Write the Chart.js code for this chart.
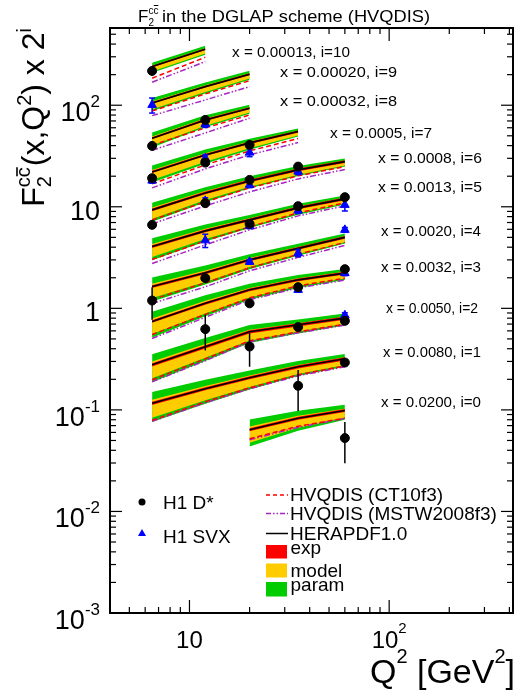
<!DOCTYPE html>
<html><head><meta charset="utf-8">
<script src="https://cdn.jsdelivr.net/npm/chart.js@4.4.0/dist/chart.umd.min.js"></script>
<style>html,body{margin:0;padding:0;background:#fff;}#wrap{width:521px;height:700px;}</style>
</head><body><div id="wrap"><canvas id="c" width="521" height="700"></canvas></div>
<script>
// ---------------- DATA ----------------
const BIN_I = [10, 9, 8, 7, 6, 5, 4, 3, 2, 1, 0];
const BIN_X = ['0.00013','0.00020','0.00032','0.0005','0.0008','0.0013','0.0020','0.0032','0.0050','0.0080','0.0200'];
const Q2_NODES = [
  [6.5, 12], [6.5, 12, 20], [6.5, 12, 20], [6.5, 12, 20, 35],
  [6.5, 12, 20, 35, 60], [6.5, 12, 20, 35, 60], [6.5, 12, 20, 35, 60],
  [6.5, 12, 20, 35, 60], [6.5, 12, 20, 35, 60], [6.5, 12, 20, 35, 60],
  [20, 35, 60]
];
// F2cc x 2^i, HERAPDF1.0 central
const HERAPDF = [
  [240, 356], [105.3, 152.4, 201.9], [47.3, 71.7, 93.4], [22.05, 32.4, 42.6, 55.0],
  [9.32, 13.70, 17.98, 23.08, 27.86], [4.058, 5.791, 7.43, 9.754, 11.96],
  [1.639, 2.236, 3.002, 3.895, 4.998], [0.7415, 1.120, 1.521, 1.908, 2.221],
  [0.2779, 0.4180, 0.5871, 0.6881, 0.8009], [0.1161, 0.1613, 0.2070, 0.2656, 0.3184],
  [0.0637, 0.0827, 0.0987]
];
const CT10 = [
  [184.5, 297.0], [87.8, 129.2, 174.6], [40.4, 59.8, 80.2], [16.80, 25.83, 35.54, 46.94],
  [7.43, 11.17, 15.34, 20.15, 24.88], [3.023, 4.617, 6.341, 8.709, 10.92],
  [1.221, 1.783, 2.504, 3.400, 4.463], [0.5523, 0.8729, 1.269, 1.665, 1.983],
  [0.1979, 0.3185, 0.4788, 0.5872, 0.6991], [0.0790, 0.1202, 0.1650, 0.2216, 0.2717],
  [0.0520, 0.0690, 0.0830]
];
const MSTW = [
  [168.6, 268.8], [79.0, 112.8, 152.4], [36.0, 53.4, 74.5], [15.35, 23.60, 32.46, 42.87],
  [6.79, 10.21, 14.01, 18.82, 23.24], [2.761, 4.218, 5.924, 8.137, 10.21],
  [1.115, 1.628, 2.340, 3.176, 4.169], [0.5046, 0.8157, 1.213, 1.592, 1.895],
  [0.1891, 0.3044, 0.4681, 0.5740, 0.6835], [0.0772, 0.1175, 0.1613, 0.2166, 0.2656],
  [0.0508, 0.0674, 0.0823]
];
// uncertainties in percent of central value
const EXP_PCT = [2, 2, 2.5, 2.5, 3, 3, 3, 3, 3.5, 3.5, 3.5];
const MODEL_UP_PCT = [
  [2.8, 2.5], [3.6, 3.0, 2.5], [4.2, 3.3, 2.5], [4.7, 3.9, 3.0, 2.2],
  [5.3, 4.2, 3.3, 2.8, 2.2], [6.2, 4.7, 3.6, 3.0, 2.5], [6.7, 5.3, 4.2, 3.3, 2.8],
  [7.3, 5.9, 4.4, 3.6, 3.0], [7.9, 6.5, 5.0, 3.9, 3.3], [8.5, 6.7, 5.3, 4.2, 3.6],
  [7.6, 5.6, 4.2]
];
const MODEL_DN_PCT = [
  [10.3, 9.3], [13.2, 11.3, 9.3], [15.0, 12.2, 9.3], [16.9, 14.1, 11.3, 8.3],
  [18.7, 15.0, 12.2, 10.3, 8.3], [21.3, 16.9, 13.2, 11.3, 9.3], [23.0, 18.7, 15.0, 12.2, 10.3],
  [24.7, 20.4, 16.0, 13.2, 11.3], [26.2, 22.1, 17.8, 14.1, 12.2], [27.8, 23.0, 18.7, 15.0, 13.2],
  [25.4, 19.5, 15.0]
];
const PARAM_UP_PCT = [
  [9.0, 8.1], [11.8, 9.9, 8.1], [13.8, 10.9, 8.1], [15.8, 12.8, 9.9, 7.1],
  [17.8, 13.8, 10.9, 9.0, 7.1], [20.9, 15.8, 11.8, 9.9, 8.1], [22.9, 17.8, 13.8, 10.9, 9.0],
  [25.1, 19.8, 14.8, 11.8, 9.9], [27.3, 21.9, 16.8, 12.8, 10.9], [29.5, 22.9, 17.8, 13.8, 11.8],
  [26.2, 18.8, 13.8]
];
const PARAM_DN_PCT = [
  [13.1, 11.9], [16.7, 14.3, 11.9], [19.0, 15.5, 11.9], [21.3, 17.9, 14.3, 10.6],
  [23.4, 19.0, 15.5, 13.1, 10.6], [26.6, 21.3, 16.7, 14.3, 11.9], [28.6, 23.4, 19.0, 15.5, 13.1],
  [30.6, 25.5, 20.1, 16.7, 14.3], [32.5, 27.6, 22.4, 17.9, 15.5], [34.4, 28.6, 23.4, 19.0, 16.7],
  [31.6, 24.5, 19.0]
];
// H1 D* measurements
const DSTAR_Q2  = [6.5, 6.5, 6.5, 6.5, 6.5, 12, 12, 12, 12, 12, 20, 20, 20, 20, 20, 35, 35, 35, 35, 35, 60, 60, 60, 60, 60];
const DSTAR_F2  = [217.6, 39.76, 19.12, 6.636, 1.193, 71.67, 27.23, 10.85, 1.983, 0.6241, 40.67, 18.40, 6.787, 1.120, 0.4207, 24.87, 10.14, 1.617, 0.6531, 0.1727, 12.43, 2.431, 0.7534, 0.2927, 0.0528];
const DSTAR_ERR = [20, 3, 1.5, 0.6, 0.42, 7, 2, 0.9, 0.15, 0.24, 3, 1.2, 0.4, 0.08, 0.155, 2, 0.7, 0.1, 0.04, 0.075, 0.7, 0.15, 0.05, 0.02, 0.023];
// H1 SVX measurements
const SVX_Q2  = [6.5, 6.5, 12, 12, 12, 12, 20, 20, 20, 20, 35, 35, 35, 35, 60, 60, 60, 60];
const SVX_F2  = [100.7, 18.11, 65.44, 30.08, 11.43, 4.669, 34.16, 16.43, 6.486, 2.869, 22.21, 9.176, 3.494, 1.521, 10.44, 5.925, 2.221, 0.8534];
const SVX_ERR = [17, 1, 5, 2.3, 0.8, 0.7, 3, 1, 0.4, 0.15, 1.5, 0.6, 0.27, 0.08, 1.35, 0.32, 0.12, 0.05];
// axis ticks
const Y_TICKS = [[1e-3,'10','-3'],[1e-2,'10','-2'],[1e-1,'10','-1'],[1,'1',''],[10,'10',''],[100,'10','2']];
const X_TICKS = [[10,'10',''],[100,'10','2']];

// ---------------- layout / style ----------------
const ANNOT_POS = [[232,350,57],[280,397,77],[280,397,106],[330,432,138],[378,482,163],[378,482,192],[381,481,235.5],[381,481,272],[386,478,313],[383,481,357],[381,481,407]];
const GREEN = '#00cc00', YELLOW = '#ffcc00', RED = '#ff0000', PURPLE = '#a724c4', BLUE = '#0000ff';
const NONE = 'rgba(0,0,0,0)';
const FONT = '"Liberation Sans", Arial, Helvetica, sans-serif';

const datasets = [];
function band(q, lo, hi, color, order) {
  const idx = datasets.length;
  datasets.push({data: q.map((x,k)=>({x, y: hi[k]})), borderColor: NONE, borderWidth: 0, pointRadius: 0, fill: idx + 1, backgroundColor: color, order});
  datasets.push({data: q.map((x,k)=>({x, y: lo[k]})), borderColor: NONE, borderWidth: 0, pointRadius: 0, fill: false, order});
}
HERAPDF.forEach((cen, b) => {
  const q = Q2_NODES[b];
  band(q, cen.map((c,k)=>c*(1-PARAM_DN_PCT[b][k]/100)), cen.map((c,k)=>c*(1+PARAM_UP_PCT[b][k]/100)), GREEN, 50);
  band(q, cen.map((c,k)=>c*(1-MODEL_DN_PCT[b][k]/100)), cen.map((c,k)=>c*(1+MODEL_UP_PCT[b][k]/100)), YELLOW, 40);
  band(q, cen.map(c=>c*(1-EXP_PCT[b]/100)), cen.map(c=>c*(1+EXP_PCT[b]/100)), RED, 30);
  datasets.push({data: q.map((x,k)=>({x, y: CT10[b][k]})), borderColor: RED, borderWidth: 1.5, borderDash: [5,3], pointRadius: 0, fill: false, order: 20});
  datasets.push({data: q.map((x,k)=>({x, y: MSTW[b][k]})), borderColor: PURPLE, borderWidth: 1.5, borderDash: [6,2,1.5,2,1.5,2], pointRadius: 0, fill: false, order: 20});
  datasets.push({data: q.map((x,k)=>({x, y: cen[k]})), borderColor: '#000', borderWidth: 1.6, pointRadius: 0, fill: false, order: 15});
});
function errData(q, v, e) {
  const out = [];
  q.forEach((x,k)=>{ out.push({x, y: v[k]-e[k]}, {x, y: v[k]+e[k]}, {x, y: null}); });
  return out;
}
datasets.push({data: errData(SVX_Q2, SVX_F2, SVX_ERR), borderColor: BLUE, borderWidth: 1.5, spanGaps: false, fill: false,
  pointStyle: 'line', pointRadius: 3, pointBorderColor: BLUE, pointBorderWidth: 1.5, order: 9});
datasets.push({data: errData(DSTAR_Q2, DSTAR_F2, DSTAR_ERR), borderColor: '#000', borderWidth: 1.5, spanGaps: false, fill: false,
  pointRadius: 0, order: 8});
datasets.push({data: SVX_Q2.map((x,k)=>({x, y: SVX_F2[k]})), showLine: false, pointStyle: 'triangle', pointRadius: 5,
  backgroundColor: BLUE, borderColor: BLUE, pointBorderWidth: 1, order: 6});
datasets.push({data: DSTAR_Q2.map((x,k)=>({x, y: DSTAR_F2[k]})), showLine: false, pointStyle: 'circle', pointRadius: 4.5,
  backgroundColor: '#000', borderColor: '#000', pointBorderWidth: 1, order: 5});

function setFont(ctx, px) { ctx.font = px + 'px ' + FONT; }
function tw(ctx, s, px) { setFont(ctx, px); return ctx.measureText(s).width; }
function put(ctx, s, x, y, px) { setFont(ctx, px); ctx.textAlign = 'left'; ctx.textBaseline = 'alphabetic'; ctx.fillText(s, x, y); }
function fitText(ctx, s, x0, x1, base, px) {
  const w = tw(ctx, s, px); let sx = (x1 - x0) / w; sx = Math.max(0.8, Math.min(1.25, sx));
  ctx.save(); ctx.translate(x0, base); ctx.scale(sx, 1); put(ctx, s, 0, 0, px); ctx.restore();
}
function line(ctx, x0, y0, x1, y1) { ctx.beginPath(); ctx.moveTo(x0, y0); ctx.lineTo(x1, y1); ctx.stroke(); }

const decor = {
  id: 'decor',
  afterDraw(chart) {
    const ctx = chart.ctx, xa = chart.scales.x, ya = chart.scales.y;
    const {left: L, right: R, top: T, bottom: B} = chart.chartArea;
    ctx.save();
    ctx.fillStyle = '#000'; ctx.strokeStyle = '#000';
    // ticks
    ctx.lineWidth = 1.2;
    for (let e = -3; e <= 2; e++) for (let k = 1; k <= 9; k++) {
      const v = k * Math.pow(10, e); if (v > ya.max) continue;
      const py = ya.getPixelForValue(v), len = k === 1 ? 12 : 6;
      line(ctx, L, py, L + len, py); line(ctx, R, py, R - len, py);
    }
    for (let e = 0; e <= 2; e++) for (let k = 1; k <= 9; k++) {
      const v = k * Math.pow(10, e); if (v < xa.min || v > xa.max) continue;
      const px = xa.getPixelForValue(v), len = k === 1 ? 13 : 6;
      line(ctx, px, B, px, B - len); line(ctx, px, T, px, T + len);
    }
    // frame
    ctx.lineWidth = 2; ctx.strokeRect(L, T, R - L, B - T);
    // y tick labels
    Y_TICKS.forEach(([v, m, s]) => {
      const py = ya.getPixelForValue(v);
      const ws = s ? tw(ctx, s, 17) : 0, wm = tw(ctx, m, 27);
      const xr = 100;
      if (s) { put(ctx, m, xr - ws - wm, py + 16, 27); put(ctx, s, xr - ws, py + 2, 17); }
      else put(ctx, m, xr - wm, py + 13, 27);
    });
    // x tick labels
    X_TICKS.forEach(([v, m, s]) => {
      const px = xa.getPixelForValue(v);
      const ws = s ? tw(ctx, s, 15) : 0, wm = tw(ctx, m, 24);
      const x0 = px - (wm + ws) / 2;
      put(ctx, m, x0, 648, 24); if (s) put(ctx, s, x0 + wm, 633, 15);
    });
    // x axis title  Q^2 [GeV^2]
    {
      const p1 = 'Q', p2 = '2', p3 = ' [GeV', p4 = '2', p5 = ']';
      const W = tw(ctx, p1, 34) + tw(ctx, p2, 20) + tw(ctx, p3, 34) + tw(ctx, p4, 20) + tw(ctx, p5, 34);
      let x = 515 - W; const b = 683;
      put(ctx, p1, x, b, 34); x += tw(ctx, p1, 34);
      put(ctx, p2, x, b - 20, 20); x += tw(ctx, p2, 20);
      put(ctx, p3, x, b, 34); x += tw(ctx, p3, 34);
      put(ctx, p4, x, b - 20, 20); x += tw(ctx, p4, 20);
      put(ctx, p5, x, b, 34);
    }
    // y axis title (rotated)  F2^{cc̄}(x,Q^2) x 2^i
    {
      ctx.save(); ctx.translate(44, 0); ctx.rotate(-Math.PI / 2);
      const M = 32, S = 20;
      const wF = tw(ctx, 'F', M), wg = Math.max(tw(ctx, '2', S), tw(ctx, 'cc', S));
      const w1 = tw(ctx, '(x,Q', M), w2 = tw(ctx, '2', S), w3 = tw(ctx, ') x 2', M), w4 = tw(ctx, 'i', S);
      const W = wF + wg + 1 + w1 + w2 + w3 + w4;
      let u = -28 - W;
      put(ctx, 'F', u, 0, M); u += wF;
      put(ctx, '2', u, 7, S); put(ctx, 'cc', u, -14, S);
      const wc = tw(ctx, 'c', S);
      ctx.lineWidth = 1.6; line(ctx, u + wc + 1, -27, u + 2 * wc, -27);
      u += wg + 1;
      put(ctx, '(x,Q', u, 0, M); u += w1;
      put(ctx, '2', u, -13, S); u += w2;
      put(ctx, ') x 2', u, 0, M); u += w3;
      put(ctx, 'i', u, -13, S);
      ctx.restore();
    }
    // title
    {
      put(ctx, 'F', 138, 22, 17);
      const x = 138 + tw(ctx, 'F', 17);
      put(ctx, '2', x, 26, 10); put(ctx, 'cc', x, 14, 10);
      const wc = tw(ctx, 'c', 10);
      ctx.lineWidth = 1; line(ctx, x + wc + 0.5, 5.5, x + 2 * wc, 5.5);
      fitText(ctx, 'in the DGLAP scheme (HVQDIS)', 162, 430, 22, 17);
    }
    // bin annotations
    ANNOT_POS.forEach(([x0, x1, b], k) => fitText(ctx, 'x = ' + BIN_X[k] + ', i=' + BIN_I[k], x0, x1, b, 15));
    // legend
    ctx.fillStyle = '#000'; ctx.beginPath(); ctx.arc(142, 502, 3.5, 0, 2 * Math.PI); ctx.fill();
    ctx.fillStyle = BLUE; ctx.beginPath(); ctx.moveTo(142, 529); ctx.lineTo(146, 536); ctx.lineTo(138, 536); ctx.closePath(); ctx.fill();
    ctx.fillStyle = '#000';
    put(ctx, 'H1 D*', 163, 508.5, 19);
    put(ctx, 'H1 SVX', 163, 542.5, 19);
    ctx.lineWidth = 1.5;
    ctx.strokeStyle = RED; ctx.setLineDash([4, 3]); line(ctx, 266, 495, 288, 495);
    ctx.strokeStyle = PURPLE; ctx.setLineDash([5, 2, 1.5, 2, 1.5, 2]); line(ctx, 266, 513.5, 288, 513.5);
    ctx.strokeStyle = '#000'; ctx.setLineDash([]); line(ctx, 266, 533.5, 288, 533.5);
    ctx.fillStyle = RED; ctx.fillRect(266, 545, 21, 13.5);
    ctx.fillStyle = YELLOW; ctx.fillRect(266, 563.5, 21, 14);
    ctx.fillStyle = GREEN; ctx.fillRect(266, 582, 21, 14.5);
    ctx.fillStyle = '#000';
    put(ctx, 'HVQDIS (CT10f3)', 290, 501, 19);
    put(ctx, 'HVQDIS (MSTW2008f3)', 290, 519.5, 19);
    put(ctx, 'HERAPDF1.0', 290, 540, 19);
    put(ctx, 'exp', 290.5, 553.5, 19);
    put(ctx, 'model', 290.5, 576.5, 19);
    put(ctx, 'param', 290.5, 590.5, 19);
    ctx.restore();
  }
};

new Chart(document.getElementById('c'), {
  type: 'line',
  data: {datasets},
  options: {
    responsive: false, animation: false, devicePixelRatio: 1, events: [],
    layout: {padding: {left: 110, right: 8, top: 28, bottom: 87}},
    plugins: {legend: {display: false}, tooltip: {enabled: false}, filler: {propagate: false}},
    elements: {line: {tension: 0}},
    scales: {
      x: {type: 'logarithmic', min: 4, max: 417, display: false},
      y: {type: 'logarithmic', min: 1e-3, max: 576, display: false}
    }
  },
  plugins: [decor]
});
</script></body></html>
